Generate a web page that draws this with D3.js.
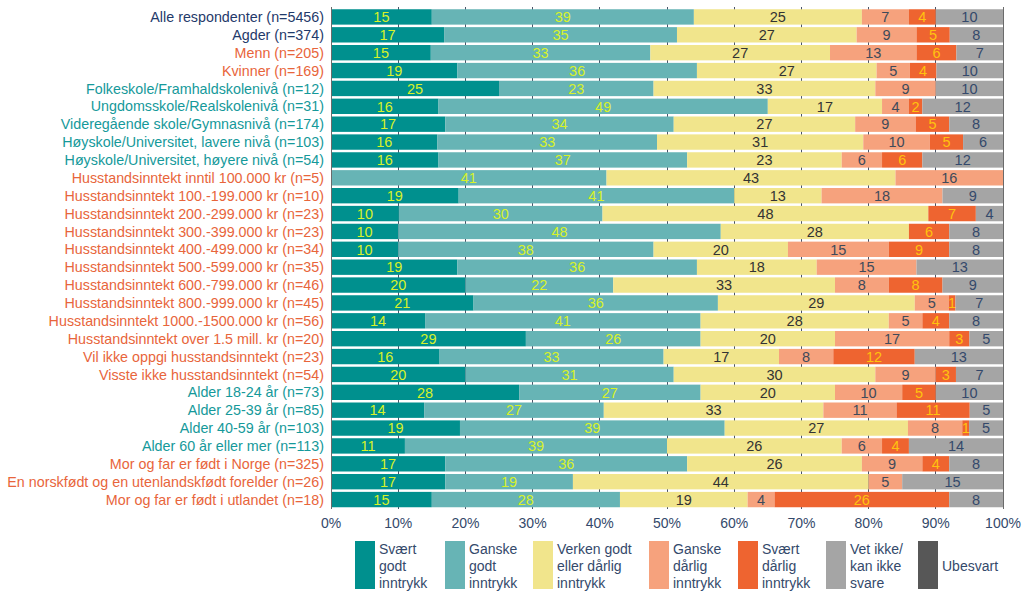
<!DOCTYPE html>
<html><head><meta charset="utf-8">
<script src="https://cdn.jsdelivr.net/npm/d3@7"></script>
<style>body{margin:0;background:#fff;}svg{display:block;font-family:Arial,"Liberation Sans",sans-serif;}</style>
</head><body><svg id="c" width="1024" height="614"></svg>
<script>
const categories = [
 "Alle respondenter (n=5456)","Agder (n=374)","Menn (n=205)","Kvinner (n=169)",
 "Folkeskole/Framhaldskolenivå (n=12)","Ungdomsskole/Realskolenivå (n=31)","Videregående skole/Gymnasnivå (n=174)",
 "Høyskole/Universitet, lavere nivå (n=103)","Høyskole/Universitet, høyere nivå (n=54)",
 "Husstandsinntekt inntil 100.000 kr (n=5)","Husstandsinntekt 100.-199.000 kr (n=10)","Husstandsinntekt 200.-299.000 kr (n=23)",
 "Husstandsinntekt 300.-399.000 kr (n=23)","Husstandsinntekt 400.-499.000 kr (n=34)","Husstandsinntekt 500.-599.000 kr (n=35)",
 "Husstandsinntekt 600.-799.000 kr (n=46)","Husstandsinntekt 800.-999.000 kr (n=45)","Husstandsinntekt 1000.-1500.000 kr (n=56)",
 "Husstandsinntekt over 1.5 mill. kr (n=20)","Vil ikke oppgi husstandsinntekt (n=23)","Visste ikke husstandsinntekt (n=54)",
 "Alder 18-24 år (n=73)","Alder 25-39 år (n=85)","Alder 40-59 år (n=103)","Alder 60 år eller mer (n=113)",
 "Mor og far er født i Norge (n=325)","En norskfødt og en utenlandskfødt forelder (n=26)","Mor og far er født i utlandet (n=18)"
];
const categoryGroup = ["navy","navy","orange","orange","teal","teal","teal","teal","teal",
 "orange","orange","orange","orange","orange","orange","orange","orange","orange","orange","orange","orange",
 "teal","teal","teal","teal","orange","orange","orange"];
const seriesNames = ["Svært godt inntrykk","Ganske godt inntrykk","Verken godt eller dårlig inntrykk","Ganske dårlig inntrykk","Svært dårlig inntrykk","Vet ikke/ kan ikke svare","Ubesvart"];
const legendLines = [["Svært","godt","inntrykk"],["Ganske","godt","inntrykk"],["Verken godt","eller dårlig","inntrykk"],["Ganske","dårlig","inntrykk"],["Svært","dårlig","inntrykk"],["Vet ikke/","kan ikke","svare"],["Ubesvart"]];
const svaertGodt   = [15,17,15,19,25,16,17,16,16, 0,19,10,10,10,19,20,21,14,29,16,20,28,14,19,11,17,17,15];
const ganskeGodt   = [39,35,33,36,23,49,34,33,37,41,41,30,48,38,36,22,36,41,26,33,31,27,27,39,39,36,19,28];
const verken       = [25,27,27,27,33,17,27,31,23,43,13,48,28,20,18,33,29,28,20,17,30,20,33,27,26,26,44,19];
const ganskeDarlig = [ 7, 9,13, 5, 9, 4, 9,10, 6,16,18, 0, 0,15,15, 8, 5, 5,17, 8, 9,10,11, 8, 6, 9, 5, 4];
const svaertDarlig = [ 4, 5, 6, 4, 0, 2, 5, 5, 6, 0, 0, 7, 6, 9, 0, 8, 1, 4, 3,12, 3, 5,11, 1, 4, 4, 0,26];
const vetIkke      = [10, 8, 7,10,10,12, 8, 6,12, 0, 9, 4, 8, 8,13, 9, 7, 8, 5,13, 7,10, 5, 5,14, 8,15, 8];
const ubesvart     = [ 0, 0, 0, 0, 0, 0, 0, 0, 0, 0, 0, 0, 0, 0, 0, 0, 0, 0, 0, 0, 0, 0, 0, 0, 0, 0, 0, 0];
const xTicks = [0,0.1,0.2,0.3,0.4,0.5,0.6,0.7,0.8,0.9,1];

const seriesArrays = [svaertGodt,ganskeGodt,verken,ganskeDarlig,svaertDarlig,vetIkke,ubesvart];
const fills = ["#00908e","#67b4b5","#f1e58c","#f6a27d","#ee6430","#a5a5a5","#575757"];
const labelColors = ["#d7f229","#d7f229","#333333","#404a5a","#ffc20e","#34496b","#ffffff"];
const catColors = {navy:"#1f3a6a", orange:"#e8653b", teal:"#15999a"};

const rows = categories.map((c,i)=>{const o={cat:c}; seriesNames.forEach((s,j)=>o[s]=seriesArrays[j][i]); return o;});
const stacked = d3.stack().keys(seriesNames).offset(d3.stackOffsetExpand)(rows);

const svg = d3.select("#c");
const x = d3.scaleLinear().domain([0,1]).range([331,1003]);
const y = d3.scaleBand().domain(categories).range([8,508.5]).paddingInner(0.14).paddingOuter(0.07);

// gridlines
svg.append("g").selectAll("line").data(xTicks).join("line")
  .attr("x1",d=>x(d)).attr("x2",d=>x(d)).attr("y1",7).attr("y2",509)
  .attr("stroke",d=>(d===0||d===1)?"#6b6b6b":"#4a5468").attr("stroke-width",1)
  .attr("shape-rendering","crispEdges");

// bars
const g = svg.append("g");
stacked.forEach((s,j)=>{
  g.append("g").attr("fill",fills[j]).selectAll("rect").data(s).join("rect")
   .attr("x",d=>x(d[0])).attr("width",d=>Math.max(0,x(d[1])-x(d[0])))
   .attr("y",d=>y(d.data.cat)).attr("height",y.bandwidth());
});
// redraw edge axis lines on top
svg.append("g").selectAll("line").data([0,1]).join("line")
  .attr("x1",d=>x(d)).attr("x2",d=>x(d)).attr("y1",7).attr("y2",509)
  .attr("stroke","#6b6b6b").attr("stroke-width",1).attr("shape-rendering","crispEdges");

// value labels
stacked.forEach((s,j)=>{
  svg.append("g").selectAll("text").data(s.filter((d,i)=>seriesArrays[j][i]>0).map(d=>({d,v:d.data[seriesNames[j]]}))).join("text")
   .attr("x",o=>x((o.d[0]+o.d[1])/2)).attr("y",o=>y(o.d.data.cat)+y.bandwidth()/2)
   .attr("dy","0.36em").attr("text-anchor","middle").attr("font-size",14.5)
   .attr("fill",labelColors[j]).text(o=>o.v);
});

// category labels
svg.append("g").selectAll("text").data(categories).join("text")
  .attr("x",324).attr("y",d=>y(d)+y.bandwidth()/2).attr("dy","0.36em")
  .attr("text-anchor","end").attr("font-size",14.3)
  .attr("fill",(d,i)=>catColors[categoryGroup[i]]).text(d=>d);

// x axis tick labels
svg.append("g").selectAll("text").data(xTicks).join("text")
  .attr("x",d=>x(d)).attr("y",523).attr("dy","0.36em").attr("text-anchor","middle")
  .attr("font-size",14).attr("fill","#34496b").text(d=>d3.format(".0%")(d));

// legend
const legX = [355,445,533,649,738,826,918];
const leg = svg.append("g");
seriesNames.forEach((s,j)=>{
  leg.append("rect").attr("x",legX[j]).attr("y",541).attr("width",20).attr("height",48).attr("fill",fills[j]);
  const lines = legendLines[j];
  const t = leg.append("text").attr("font-size",14).attr("fill","#34496b");
  const startY = lines.length===1 ? 566 : 549;
  lines.forEach((l,k)=>t.append("tspan").attr("x",legX[j]+24).attr("y",startY+k*17).attr("dy","0.36em").text(l));
});
</script></body></html>
